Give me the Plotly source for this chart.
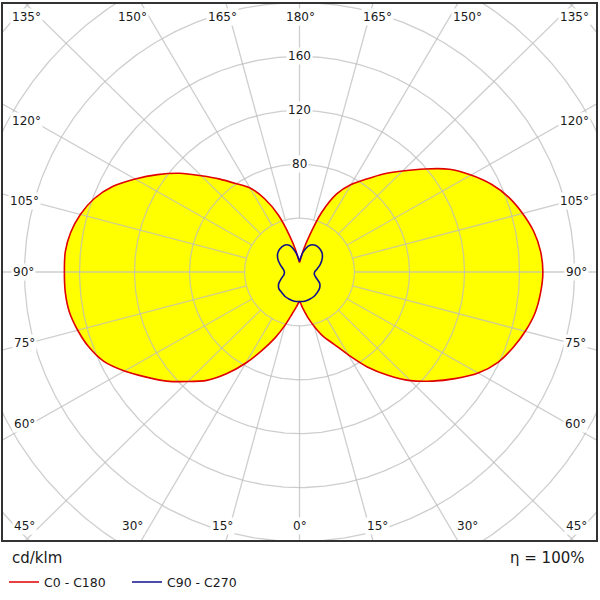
import numpy as np
import plotly.graph_objects as go

# ---------------- data (cd/klm) ----------------
gamma = [0, 5, 10, 15, 20, 25, 30, 35, 40, 45, 50, 55, 60, 65, 70, 75, 80, 85, 90,
         95, 100, 105, 110, 115, 120, 125, 130, 135, 140, 145, 150, 155, 160, 165, 170, 175, 180]
c0 = [22, 27, 34, 42, 51, 59, 71, 86, 100, 114, 126, 138, 150, 159, 165, 170, 174, 176, 177,
      176, 173, 168, 162, 154, 144, 133, 119, 106, 95, 84, 75, 64, 47, 28, 17, 10, 7]
c180 = [22, 26, 32, 41, 52, 64, 78, 92, 105, 115, 126, 136, 147, 157, 163, 167, 170, 171, 171,
        171, 169, 165, 159, 150, 138, 126, 114, 101, 90, 80, 72, 60, 45, 28, 17, 10, 7]

gamma_b = [0, 10, 20, 30, 40, 50, 60, 70, 80, 90, 100, 110, 120, 130, 140, 150, 160, 170, 180]
c90 = [22, 22, 21.5, 21, 20, 19, 17, 13, 11, 11, 13, 16, 19, 21.5, 22.7, 23, 21, 15, 8]
c270 = [22, 22, 21.5, 21, 20, 19.5, 17.5, 14, 11.5, 11, 12, 14.7, 18, 20.8, 22.3, 22.8, 21, 14.5, 8]

ring_values = [40, 80, 120, 160, 200, 240, 280]
ring_labels = [80, 120, 160]
spoke_angles = list(range(0, 360, 15))

# angle labels: text and pixel placement in the 600x600 frame
angle_label_text = ["135°", "150°", "165°", "180°", "165°", "150°", "135°",
                    "120°", "105°", "90°", "75°", "60°", "45°",
                    "30°", "15°", "0°", "15°", "30°", "45°",
                    "120°", "105°", "90°", "75°", "60°"]
angle_label_px = [26, 132, 222, 300, 377, 467, 574,
                  26, 24, 23, 24, 24, 24,
                  132, 222, 300, 377, 467, 576,
                  574, 574, 576, 575, 575]
angle_label_py = [17, 17, 17, 17, 17, 17, 17,
                  123, 205, 277, 350, 433, 537,
                  537, 537, 537, 537, 537, 537,
                  123, 205, 277, 350, 433]

# ---------------- geometry ----------------
K = 1.375            # pixels per cd/klm
CX, CY = 299.5, 277.5
L, R, T, B = 3, 596, 4, 551


def px2x(px):
    return (px - CX) / K


def py2y(py):
    return (CY - py) / K


def paper_x(px):
    return (px - L) / (R - L)


def paper_y(py):
    return (B - py) / (B - T)


def polar_xy(g_deg, r, side):
    g = np.radians(np.asarray(g_deg, float))
    r = np.asarray(r, float)
    return side * r * np.sin(g), -r * np.cos(g)


def closed_curve(g, right, left):
    xr, yr = polar_xy(g, right, 1)
    xl, yl = polar_xy(g[::-1], left[::-1], -1)
    return np.concatenate([xr, xl]), np.concatenate([yr, yl])


xa, ya = closed_curve(gamma, c0, c180)
xb, yb = closed_curve(gamma_b, c90, c270)

YELLOW = "#ffff00"
RED = "#e00000"
BLUE = "#10108c"
GRID = "rgba(190,190,190,0.75)"
TXT = "#1a1a1a"
FONT = "DejaVu Sans"
SM = 0.7

fig = go.Figure()

# yellow fills
fig.add_trace(go.Scatter(x=xa, y=ya, mode="lines", line=dict(width=0, shape="spline", smoothing=SM),
                         fill="toself", fillcolor=YELLOW, showlegend=False, hoverinfo="skip"))
fig.add_trace(go.Scatter(x=xb, y=yb, mode="lines", line=dict(width=0, shape="spline", smoothing=SM),
                         fill="toself", fillcolor=YELLOW, showlegend=False, hoverinfo="skip"))

# grid: rings and spokes
gx, gy = [], []
t = np.linspace(0, 2 * np.pi, 721)
for rv in ring_values:
    gx += list(rv * np.cos(t)) + [None]
    gy += list(rv * np.sin(t)) + [None]
for a in spoke_angles:
    ar = np.radians(a)
    gx += [40 * np.sin(ar), 420 * np.sin(ar), None]
    gy += [-40 * np.cos(ar), -420 * np.cos(ar), None]
fig.add_trace(go.Scatter(x=gx, y=gy, mode="lines", line=dict(color=GRID, width=1.3),
                         showlegend=False, hoverinfo="skip"))

# outlines
fig.add_trace(go.Scatter(x=xa, y=ya, mode="lines", name="C0 - C180",
                         line=dict(color=RED, width=1.6, shape="spline", smoothing=SM)))
fig.add_trace(go.Scatter(x=xb, y=yb, mode="lines", name="C90 - C270",
                         line=dict(color=BLUE, width=1.6, shape="spline", smoothing=SM)))

ann = []
for txt, px, py in zip(angle_label_text, angle_label_px, angle_label_py):
    ann.append(dict(x=px2x(px), y=py2y(py), xref="x", yref="y", text=txt, showarrow=False,
                    font=dict(family=FONT, size=12, color=TXT), bgcolor="white", borderpad=1))
for rl in ring_labels:
    ann.append(dict(x=0, y=rl, xref="x", yref="y", text=str(rl), showarrow=False,
                    font=dict(family=FONT, size=12, color=TXT), bgcolor="white", borderpad=1))
ann.append(dict(x=paper_x(587), y=paper_y(569), xref="paper", yref="paper",
                xanchor="right", yanchor="middle", text="η = 100%", showarrow=False,
                font=dict(family=FONT, size=15, color=TXT)))
ann.append(dict(x=paper_x(10), y=paper_y(569), xref="paper", yref="paper",
                xanchor="left", yanchor="middle", text="cd/klm", showarrow=False,
                font=dict(family=FONT, size=15, color=TXT)))

fig.update_layout(
    width=600, height=600,
    margin=dict(l=L, r=600 - R, t=T, b=600 - B),
    paper_bgcolor="white", plot_bgcolor="white",
    xaxis=dict(range=[px2x(L), px2x(R)], visible=True, showgrid=False, zeroline=False,
               showticklabels=False, ticks="", showline=True, mirror=True,
               linecolor="#333333", linewidth=2, fixedrange=True),
    yaxis=dict(range=[py2y(B), py2y(T)], visible=True, showgrid=False, zeroline=False,
               showticklabels=False, ticks="", showline=True, mirror=True,
               linecolor="#333333", linewidth=2, fixedrange=True),
    annotations=ann,
    showlegend=True,
    legend=dict(orientation="h", x=paper_x(4), xanchor="left",
                y=paper_y(579), yanchor="top",
                font=dict(family=FONT, size=12.5, color=TXT),
                entrywidth=78, entrywidthmode="pixels",
                tracegroupgap=0, itemwidth=30, bgcolor="rgba(0,0,0,0)"),
)

fig.write_html("out.html")
